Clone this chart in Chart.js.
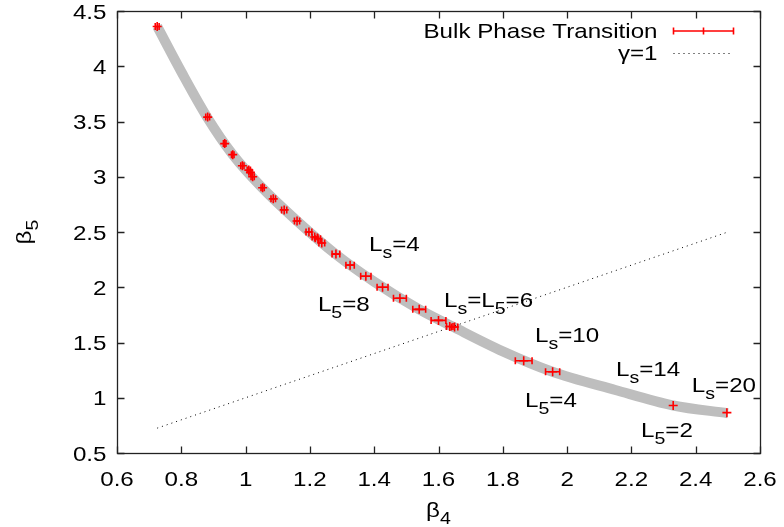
<!DOCTYPE html>
<html>
<head>
<meta charset="utf-8">
<script src="https://cdn.jsdelivr.net/npm/chart.js@4.4.1/dist/chart.umd.min.js"></script>
<style>
  html, body { margin: 0; padding: 0; background: #fff; }
  canvas { display: block; }
</style>
</head>
<body>
<canvas id="phaseChart" width="784" height="527"></canvas>
<script>
// ==============================================================================
// 1. DATA
// ==============================================================================
// bulk phase transition points: beta4, beta5, horizontal error on beta4
const beta4 = [0.725, 0.882, 0.935, 0.960, 0.990, 1.010, 1.015, 1.022, 1.053, 1.086,
               1.120, 1.160, 1.197, 1.215, 1.225, 1.237, 1.281, 1.325, 1.374, 1.426,
               1.480, 1.540, 1.600, 1.635, 1.650, 1.865, 1.955, 2.330, 2.497];
const beta5 = [4.360, 3.540, 3.300, 3.200, 3.100, 3.060, 3.040, 3.000, 2.900, 2.800,
               2.700, 2.600, 2.500, 2.455, 2.440, 2.400, 2.300, 2.200, 2.100, 2.000,
               1.900, 1.800, 1.700, 1.645, 1.640, 1.335, 1.235, 0.930, 0.865];
const beta4Err = [0.006, 0.006, 0.004, 0.004, 0.005, 0.005, 0.005, 0.005, 0.005, 0.007,
                  0.008, 0.008, 0.009, 0.008, 0.008, 0.009, 0.012, 0.013, 0.016, 0.017,
                  0.020, 0.020, 0.023, 0.010, 0.010, 0.026, 0.022, 0, 0];

// thick grey guide curve
const curveX = [0.725, 0.80, 0.88, 0.96, 1.05, 1.16, 1.28, 1.40, 1.54, 1.65, 1.80, 1.95, 2.15, 2.33, 2.50];
const curveY = [4.36, 3.95, 3.54, 3.20, 2.905, 2.60, 2.30, 2.05, 1.80, 1.635, 1.42, 1.24, 1.07, 0.93, 0.86];

// gamma = 1 line
const gammaX = [0.725, 2.50];
const gammaY = [0.725, 2.50];

// axis ticks
const xTicks = [0.6, 0.8, 1.0, 1.2, 1.4, 1.6, 1.8, 2.0, 2.2, 2.4, 2.6];
const yTicks = [0.5, 1.0, 1.5, 2.0, 2.5, 3.0, 3.5, 4.0, 4.5];

// lattice-size labels: [text, isSubscript] pieces + anchor in data units (left edge, baseline)
const labelParts = [
    [['L', 0], ['s', 1], ['=4', 0]],
    [['L', 0], ['5', 1], ['=8', 0]],
    [['L', 0], ['s', 1], ['=L', 0], ['5', 1], ['=6', 0]],
    [['L', 0], ['s', 1], ['=10', 0]],
    [['L', 0], ['s', 1], ['=14', 0]],
    [['L', 0], ['s', 1], ['=20', 0]],
    [['L', 0], ['5', 1], ['=4', 0]],
    [['L', 0], ['5', 1], ['=2', 0]]
];
const labelX = [1.384, 1.225, 1.617, 1.900, 2.152, 2.388, 1.869, 2.230];
const labelY = [2.328, 1.785, 1.821, 1.504, 1.197, 1.052, 0.916, 0.645];

// ==============================================================================
// 2. TEXT HELPER (gnuplot-like wide Helvetica with subscripts)
// ==============================================================================
const FONT = '"Liberation Sans", Arial, sans-serif';
const FS = 21;
const SUB_FS = 17;
const STRETCH = 1.15;
const RED = '#ff0000';

function richWidth(ctx, parts) {
    let w = 0;
    parts.forEach(([t, s]) => {
        ctx.font = (s ? SUB_FS : FS) + 'px ' + FONT;
        w += ctx.measureText(t).width;
    });
    return w * STRETCH;
}

function drawRich(ctx, parts, x, y, align) {
    const w = richWidth(ctx, parts);
    let cx = align === 'right' ? x - w : (align === 'center' ? x - w / 2 : x);
    ctx.textAlign = 'left';
    ctx.textBaseline = 'alphabetic';
    parts.forEach(([t, s]) => {
        ctx.font = (s ? SUB_FS : FS) + 'px ' + FONT;
        ctx.save();
        ctx.translate(cx, y + (s ? 7 : 0));
        ctx.scale(STRETCH, 1);
        ctx.fillText(t, 0, 0);
        ctx.restore();
        cx += ctx.measureText(t).width * STRETCH;
    });
}

function fmt(v) {
    return String(Math.round(v * 10) / 10);
}

// horizontal bar with end caps (and optional centre tick)
function errorBar(ctx, xl, xr, py, centre) {
    ctx.beginPath();
    ctx.moveTo(xl, py); ctx.lineTo(xr, py);
    ctx.moveTo(xl, py - 3.5); ctx.lineTo(xl, py + 3.5);
    ctx.moveTo(xr, py - 3.5); ctx.lineTo(xr, py + 3.5);
    if (centre) {
        ctx.moveTo((xl + xr) / 2, py - 3.5); ctx.lineTo((xl + xr) / 2, py + 3.5);
    }
    ctx.stroke();
}

// ==============================================================================
// 3. PLUGINS
// ==============================================================================
const errorBars = {
    id: 'errorBars',
    afterDatasetsDraw(chart) {
        const { ctx, scales: { x, y } } = chart;
        ctx.save();
        ctx.strokeStyle = RED;
        ctx.lineWidth = 1.6;
        beta4.forEach((b4, i) => {
            if (!beta4Err[i]) return;
            errorBar(ctx, x.getPixelForValue(b4 - beta4Err[i]), x.getPixelForValue(b4 + beta4Err[i]),
                     y.getPixelForValue(beta5[i]), false);
        });
        ctx.restore();
    }
};

const frame = {
    id: 'frame',
    afterDraw(chart) {
        const { ctx, chartArea: a, scales: { x, y } } = chart;
        const L = Math.round(a.left) + 0.5, R = Math.round(a.right) + 0.5;
        const T = Math.round(a.top) + 0.5, B = Math.round(a.bottom) + 0.5;
        ctx.save();
        ctx.strokeStyle = '#222';
        ctx.lineWidth = 1.3;
        ctx.strokeRect(L, T, R - L, B - T);

        // inward ticks on all four sides
        ctx.beginPath();
        xTicks.forEach(v => {
            const px = Math.round(x.getPixelForValue(v)) + 0.5;
            ctx.moveTo(px, B); ctx.lineTo(px, B - 7);
            ctx.moveTo(px, T); ctx.lineTo(px, T + 7);
        });
        yTicks.forEach(v => {
            const py = Math.round(y.getPixelForValue(v)) + 0.5;
            ctx.moveTo(L, py); ctx.lineTo(L + 7, py);
            ctx.moveTo(R, py); ctx.lineTo(R - 7, py);
        });
        ctx.stroke();

        // tick labels
        ctx.fillStyle = '#000';
        xTicks.forEach(v => drawRich(ctx, [[fmt(v), 0]], x.getPixelForValue(v), B + 32, 'center'));
        yTicks.forEach(v => drawRich(ctx, [[fmt(v), 0]], L - 11, y.getPixelForValue(v) + 7.5, 'right'));

        // axis titles
        drawRich(ctx, [['\u03b2', 0], ['4', 1]], (a.left + a.right) / 2, B + 63, 'center');
        ctx.save();
        ctx.translate(31, (a.top + a.bottom) / 2);
        ctx.rotate(-Math.PI / 2);
        drawRich(ctx, [['\u03b2', 0], ['5', 1]], 0, 0, 'center');
        ctx.restore();

        // key (top right, gnuplot style: text right-aligned, sample on the right)
        const keyText = R - 103, s0 = R - 87, s1 = R - 27;
        const row1 = T + 19, row2 = T + 41;
        drawRich(ctx, [['Bulk Phase Transition', 0]], keyText, row1 + 7.5, 'right');
        drawRich(ctx, [['\u03b3=1', 0]], keyText, row2 + 7.5, 'right');

        ctx.save();
        ctx.strokeStyle = RED;
        ctx.lineWidth = 1.6;
        errorBar(ctx, s0, s1, Math.round(row1), true);
        ctx.restore();

        ctx.save();
        ctx.strokeStyle = '#000';
        ctx.lineWidth = 1;
        ctx.setLineDash([1, 4]);
        ctx.beginPath();
        ctx.moveTo(s0, Math.round(row2) + 0.5); ctx.lineTo(s1, Math.round(row2) + 0.5);
        ctx.stroke();
        ctx.restore();

        // lattice labels
        labelParts.forEach((parts, i) => {
            drawRich(ctx, parts, x.getPixelForValue(labelX[i]), y.getPixelForValue(labelY[i]), 'left');
        });
        ctx.restore();
    }
};

// ==============================================================================
// 4. CHART
// ==============================================================================
const hiddenAxis = {
    type: 'linear',
    grid: { display: false, drawTicks: false },
    border: { display: false },
    ticks: { display: false }
};

new Chart(document.getElementById('phaseChart'), {
    type: 'scatter',
    data: {
        datasets: [
            {
                label: 'Bulk Phase Transition',
                data: beta4.map((v, i) => ({ x: v, y: beta5[i] })),
                pointStyle: 'cross',
                pointRadius: 4.5,
                borderColor: RED,
                backgroundColor: RED,
                borderWidth: 1.6,
                order: 1
            },
            {
                label: '\u03b3=1',
                data: gammaX.map((v, i) => ({ x: v, y: gammaY[i] })),
                showLine: true,
                borderColor: '#000',
                borderWidth: 1,
                borderDash: [1, 4],
                pointRadius: 0,
                order: 2
            },
            {
                label: 'guide',
                data: curveX.map((v, i) => ({ x: v, y: curveY[i] })),
                showLine: true,
                borderColor: '#bebebe',
                borderWidth: 10,
                borderCapStyle: 'butt',
                cubicInterpolationMode: 'monotone',
                pointRadius: 0,
                order: 3
            }
        ]
    },
    options: {
        responsive: false,
        animation: false,
        events: [],
        layout: { padding: { left: 0, right: 24, top: 11, bottom: 0 } },
        plugins: { legend: { display: false }, tooltip: { enabled: false } },
        scales: {
            x: Object.assign({}, hiddenAxis, {
                min: 0.6, max: 2.6,
                afterBuildTicks: s => { s.ticks = xTicks.map(v => ({ value: v })); },
                afterFit: s => { s.height = 74; }
            }),
            y: Object.assign({}, hiddenAxis, {
                min: 0.5, max: 4.5,
                afterBuildTicks: s => { s.ticks = yTicks.map(v => ({ value: v })); },
                afterFit: s => { s.width = 117; }
            })
        }
    },
    plugins: [errorBars, frame]
});
</script>
</body>
</html>
